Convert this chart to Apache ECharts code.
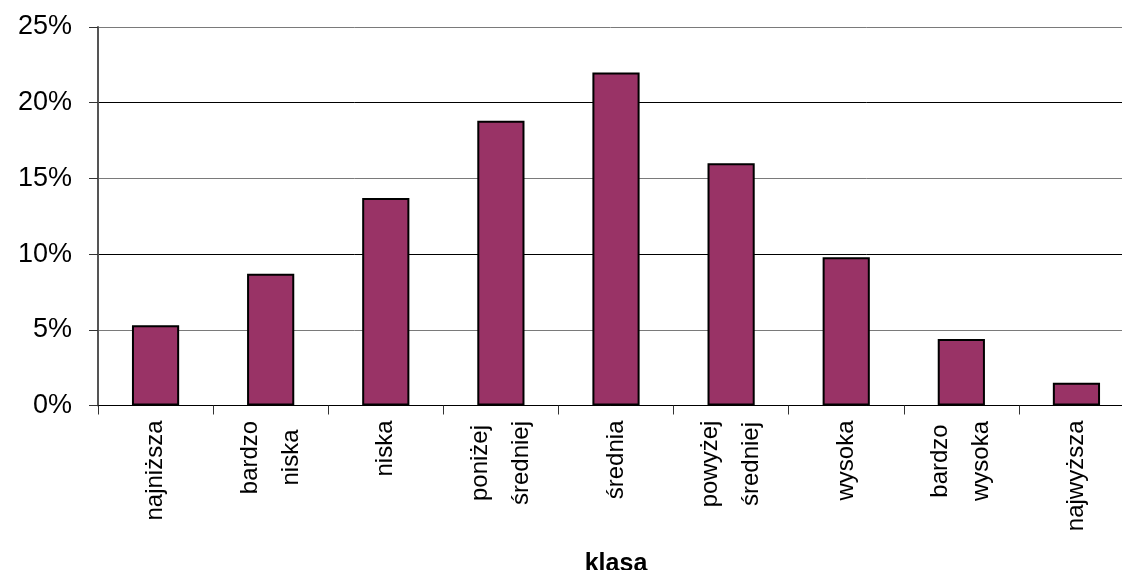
<!DOCTYPE html>
<html>
<head>
<meta charset="utf-8">
<title>klasa</title>
<script src="https://cdn.jsdelivr.net/npm/echarts@6/dist/echarts.min.js"></script>
<style>
  html, body { margin: 0; padding: 0; background: #fff; }
  #chart { width: 1122px; height: 570px; }
</style>
</head>
<body>
<div id="chart"></div>
<script>
// Share of cases per class (%)
const categories = [
  'najniższa', 'bardzo\nniska', 'niska', 'poniżej\nśredniej', 'średnia',
  'powyżej\nśredniej', 'wysoka', 'bardzo\nwysoka', 'najwyższa'
];
const shares = [5.3, 8.7, 13.7, 18.8, 22.0, 16.0, 9.8, 4.4, 1.5];
const yTicks = [0, 5, 10, 15, 20, 25];
const axisTitle = 'klasa';

const FONT = '"Liberation Sans", Arial, sans-serif';
const CAT_SIZE = 24;

// Two-line category labels: both lines are centred inside a box as wide as the longer line.
const measureCtx = document.createElement('canvas').getContext('2d');
measureCtx.font = CAT_SIZE + 'px ' + FONT;
const rich = {};
categories.forEach((c, i) => {
  const lines = c.split('\n');
  if (lines.length > 1) {
    const w = Math.ceil(Math.max(...lines.map(l => measureCtx.measureText(l).width)));
    rich['c' + i] = { width: w, align: 'center', fontSize: CAT_SIZE, fontFamily: FONT, color: '#000', lineHeight: 41 };
  }
});

const chart = echarts.init(document.getElementById('chart'), null, { renderer: 'canvas' });
chart.setOption({
  animation: false,
  backgroundColor: '#fff',
  // the plot runs a little past the right edge of the canvas
  grid: { left: 98, top: 27, width: 1036, bottom: 164.5, containLabel: false, outerBoundsMode: 'none' },
  xAxis: {
    type: 'category',
    data: categories,
    boundaryGap: true,
    name: axisTitle,
    nameLocation: 'middle',
    nameGap: 146,
    nameTextStyle: { fontFamily: FONT, fontSize: 25, fontWeight: 'bold', color: '#000', verticalAlign: 'top' },
    axisLine: { show: true, lineStyle: { color: '#000', width: 1 } },
    axisTick: { show: true, alignWithLabel: false, length: 9, lineStyle: { color: '#333', width: 1 } },
    axisLabel: {
      interval: 0,
      rotate: 90,
      margin: 15,
      fontFamily: FONT,
      fontSize: CAT_SIZE,
      color: '#000',
      lineHeight: 41,
      rich: rich,
      formatter: (v, i) => {
        const lines = v.split('\n');
        if (lines.length === 1) return v;
        return lines.map(l => '{c' + i + '|' + l + '}').join('\n');
      }
    },
    splitLine: { show: false }
  },
  yAxis: {
    type: 'value',
    min: yTicks[0],
    max: yTicks[yTicks.length - 1],
    interval: yTicks[1] - yTicks[0],
    axisLine: { show: true, lineStyle: { color: '#555', width: 2 } },
    axisTick: { show: true, inside: false, length: 9, lineStyle: { color: '#333', width: 1 } },
    axisLabel: {
      formatter: '{value}%',
      margin: 26,
      fontFamily: FONT,
      fontSize: 27,
      color: '#000'
    },
    splitLine: {
      show: true,
      lineStyle: { color: ['#000', '#7a7a7a', '#000', '#7a7a7a', '#000', '#7a7a7a'], width: 1 }
    }
  },
  series: [{
    type: 'bar',
    data: shares,
    barWidth: '41%',
    itemStyle: { color: '#993366', borderColor: '#000', borderWidth: 2 },
    label: { show: false }
  }]
});
</script>
</body>
</html>
